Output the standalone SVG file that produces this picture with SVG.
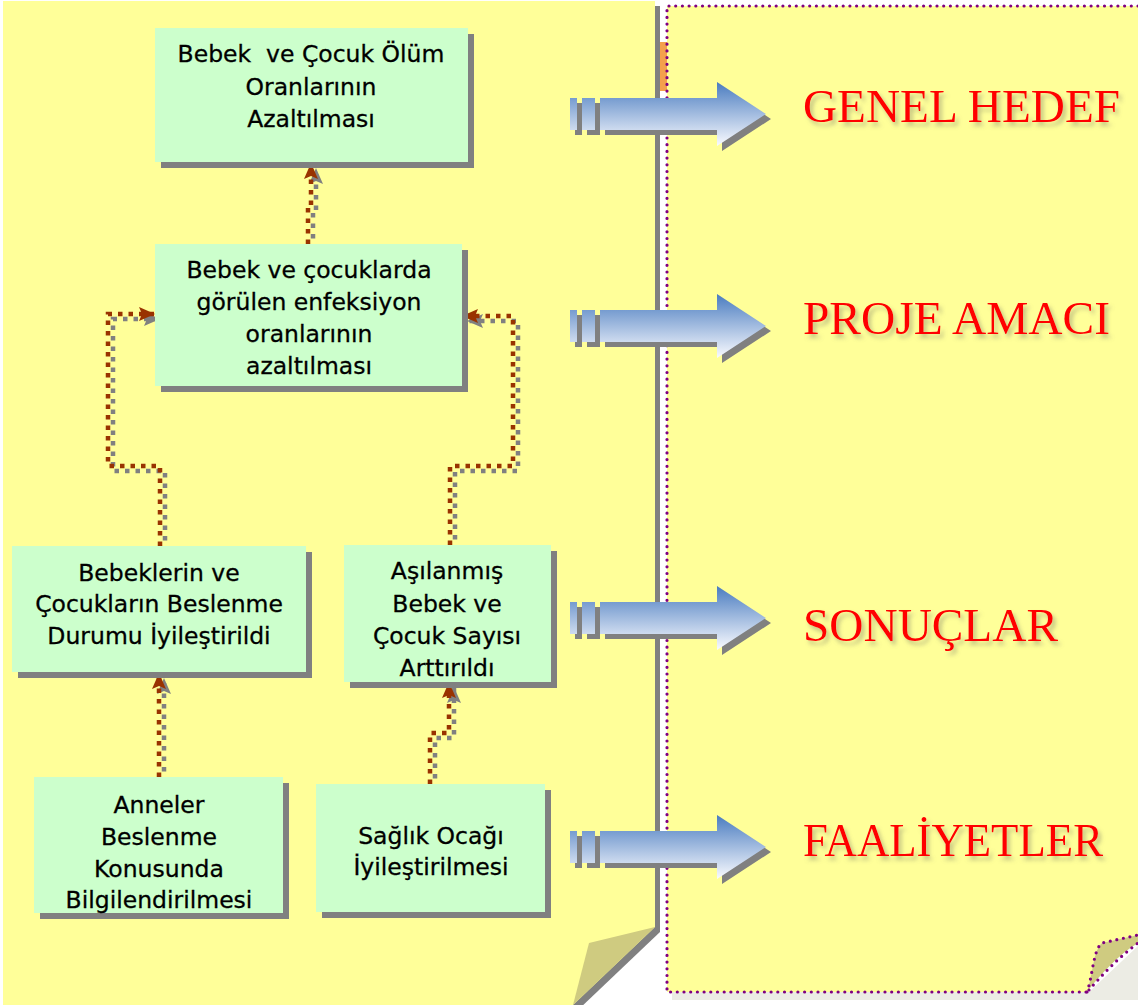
<svg xmlns="http://www.w3.org/2000/svg" width="1138" height="1005" viewBox="0 0 1138 1005">
  <style>
    .box { fill: #CCFFCC; }
    .boxShadow { fill: #808080; }
    .lbl { font-family: "DejaVu Sans", "Liberation Sans", sans-serif; font-size: 23.5px; fill: #000; stroke: #000; stroke-width: 0.3; text-anchor: middle; }
    .title { font-family: "Liberation Serif", "Times New Roman", serif; font-size: 47px; fill: #FF0000; }
    .link { fill: none; stroke: #993300; stroke-width: 4.5; stroke-dasharray: 4.5 6; }
    .linkShadow { fill: none; stroke: #808080; stroke-width: 4.5; stroke-dasharray: 4.5 6; }
    .dots { fill: none; stroke: #800080; stroke-width: 3.2; stroke-linecap: round; stroke-dasharray: 0 6.7; }
  </style>
  <defs>
    <linearGradient id="arrowFill" x1="0" y1="0" x2="0" y2="1">
      <stop offset="0" stop-color="#4A7CC0"/>
      <stop offset="1" stop-color="#FAFBFF"/>
    </linearGradient>
    <marker id="headBrown" markerUnits="userSpaceOnUse" markerWidth="18" markerHeight="16" refX="16" refY="7" orient="auto">
      <path d="M0,0 L16,7 L0,14 L3,7 Z" fill="#993300"/>
    </marker>
    <marker id="headGray" markerUnits="userSpaceOnUse" markerWidth="18" markerHeight="16" refX="16" refY="7" orient="auto">
      <path d="M0,0 L16,7 L0,14 L3,7 Z" fill="#808080"/>
    </marker>
    <filter id="titleShadow" x="-5%" y="-30%" width="115%" height="170%">
      <feGaussianBlur in="SourceAlpha" stdDeviation="2"/>
      <feOffset dx="3" dy="4" result="soft"/>
      <feFlood flood-color="#7a7a66" flood-opacity="0.45"/>
      <feComposite in2="soft" operator="in"/>
      <feMerge><feMergeNode/><feMergeNode in="SourceGraphic"/></feMerge>
    </filter>
    <!-- block arrow drawn around y = 0 -->
    <g id="blockArrow">
      <path transform="translate(5,5)" fill="#808080" d="M570,-16 H577 V16 H570 Z M582,-16 H595 V16 H582 Z M600,-16 H717 V-32 L766,0 L717,32 V16 H600 Z"/>
      <path fill="url(#arrowFill)" d="M570,-16 H577 V16 H570 Z M582,-16 H595 V16 H582 Z M600,-16 H717 V-32 L766,0 L717,32 V16 H600 Z"/>
    </g>
  </defs>

  <rect width="1138" height="1005" fill="#FFFFFF"/>

  <!-- left sheet -->
  <g id="leftSheet">
    <polygon points="8,6 660,6 660,932 578,1010 8,1010" fill="#808080"/>
    <polygon points="3,1 655,1 655,927 573,1005 3,1005" fill="#FFFF99"/>
    <polygon points="655,927 589,943 573,1005" fill="#CFCB80"/>
    <rect x="660" y="42" width="7" height="49" fill="#F4A04C"/>
  </g>

  <!-- right sheet -->
  <g id="rightSheet">
    <path d="M672,992 H1089 L1138,946 V1000 H672 Z" fill="#ECECE4"/>
    <path d="M667,6 H1138 V935 L1102,943 C1093,950 1093,975 1087,992 H667 Z" fill="#FFFF99"/>
    <path d="M1087,992 C1093,975 1093,950 1102,943 L1138,935 V943 C1118,955 1100,975 1087,992 Z" fill="#CFCB80"/>
    <path class="dots" d="M1138,6 H667 V992 H1087"/>
    <path class="dots" d="M1087,992 C1093,975 1093,950 1102,943 L1138,935"/>
    <path class="dots" d="M1089,990 C1102,975 1118,958 1138,943"/>
  </g>

  <!-- block arrows -->
  <g id="pointers">
    <use href="#blockArrow" y="114"/>
    <use href="#blockArrow" y="326"/>
    <use href="#blockArrow" y="618"/>
    <use href="#blockArrow" y="847"/>
  </g>

  <!-- level titles -->
  <g id="levels" filter="url(#titleShadow)">
    <text class="title" x="803" y="122" textLength="317" lengthAdjust="spacingAndGlyphs">GENEL HEDEF</text>
    <text class="title" x="803" y="334" textLength="307" lengthAdjust="spacingAndGlyphs">PROJE AMACI</text>
    <text class="title" x="803" y="641" textLength="255" lengthAdjust="spacingAndGlyphs">SONUÇLAR</text>
    <text class="title" x="803" y="856" textLength="300" lengthAdjust="spacingAndGlyphs">FAALİYETLER</text>
  </g>

  <!-- connectors -->
  <g id="connectors">
    <g transform="translate(5,5)">
      <path class="linkShadow" marker-end="url(#headGray)" d="M308,244 V208 H311 V163"/>
      <path class="linkShadow" marker-end="url(#headGray)" d="M160,546 V466 H108 V314 H155"/>
      <path class="linkShadow" marker-end="url(#headGray)" d="M450,545 V466 H513 V316 H462"/>
      <path class="linkShadow" marker-end="url(#headGray)" d="M159,777 V673"/>
      <path class="linkShadow" marker-end="url(#headGray)" d="M430,784 V733 H449 V682"/>
    </g>
    <path class="link" marker-end="url(#headBrown)" d="M308,244 V208 H311 V163"/>
    <path class="link" marker-end="url(#headBrown)" d="M160,546 V466 H108 V314 H155"/>
    <path class="link" marker-end="url(#headBrown)" d="M450,545 V466 H513 V316 H462"/>
    <path class="link" marker-end="url(#headBrown)" d="M159,777 V673"/>
    <path class="link" marker-end="url(#headBrown)" d="M430,784 V733 H449 V682"/>
  </g>

  <!-- nodes -->
  <g id="node-goal">
    <rect class="boxShadow" x="161" y="34" width="313" height="134"/>
    <rect class="box" x="155" y="28" width="313" height="134"/>
    <text class="lbl" xml:space="preserve"><tspan x="311" y="62">Bebek  ve Çocuk Ölüm</tspan><tspan x="311" y="95">Oranlarının</tspan><tspan x="311" y="127">Azaltılması</tspan></text>
  </g>

  <g id="node-purpose">
    <rect class="boxShadow" x="161" y="250" width="307" height="142"/>
    <rect class="box" x="155" y="244" width="307" height="142"/>
    <text class="lbl"><tspan x="309" y="278">Bebek ve çocuklarda</tspan><tspan x="309" y="310">görülen enfeksiyon</tspan><tspan x="309" y="342">oranlarının</tspan><tspan x="309" y="374">azaltılması</tspan></text>
  </g>

  <g id="node-nutrition">
    <rect class="boxShadow" x="18" y="552" width="294" height="126"/>
    <rect class="box" x="12" y="546" width="294" height="126"/>
    <text class="lbl"><tspan x="159" y="581">Bebeklerin ve</tspan><tspan x="159" y="612">Çocukların Beslenme</tspan><tspan x="159" y="644">Durumu İyileştirildi</tspan></text>
  </g>

  <g id="node-vaccination">
    <rect class="boxShadow" x="350" y="551" width="207" height="137"/>
    <rect class="box" x="344" y="545" width="207" height="137"/>
    <text class="lbl"><tspan x="447" y="579">Aşılanmış</tspan><tspan x="447" y="612">Bebek ve</tspan><tspan x="447" y="644">Çocuk Sayısı</tspan><tspan x="447" y="676">Arttırıldı</tspan></text>
  </g>

  <g id="node-mothers">
    <rect class="boxShadow" x="40" y="783" width="249" height="136"/>
    <rect class="box" x="34" y="777" width="249" height="136"/>
    <text class="lbl"><tspan x="159" y="813">Anneler</tspan><tspan x="159" y="845">Beslenme</tspan><tspan x="159" y="877">Konusunda</tspan><tspan x="159" y="908">Bilgilendirilmesi</tspan></text>
  </g>

  <g id="node-clinic">
    <rect class="boxShadow" x="322" y="790" width="229" height="128"/>
    <rect class="box" x="316" y="784" width="229" height="128"/>
    <text class="lbl"><tspan x="431" y="844">Sağlık Ocağı</tspan><tspan x="431" y="875">İyileştirilmesi</tspan></text>
  </g>
</svg>
